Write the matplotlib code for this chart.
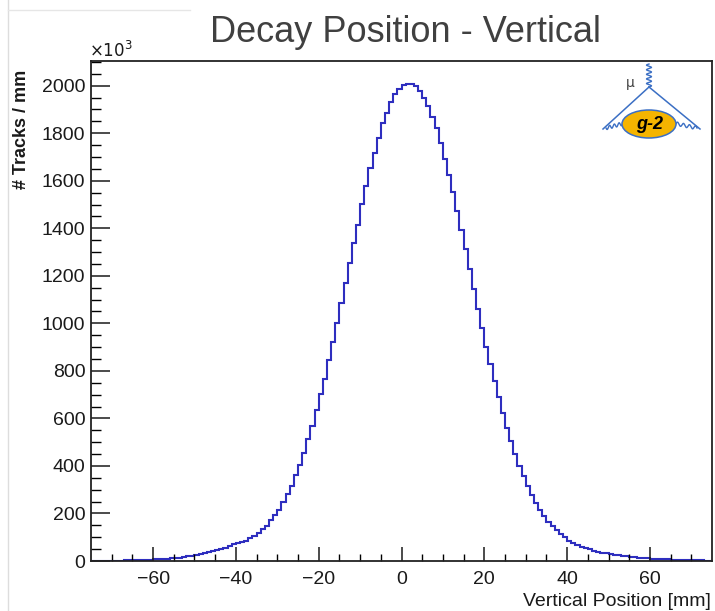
import numpy as np
import matplotlib
matplotlib.use("Agg")
import matplotlib.pyplot as plt
from matplotlib.patches import Ellipse
from matplotlib.lines import Line2D

# Histogram binning (mm) and contents (tracks per mm, in units of 10^3)
bin_lo, bin_hi, bin_width = -75, 75, 1
counts = [
    # -75 .. -51
    1, 1, 1, 1, 2, 2, 2, 2, 3, 3, 3, 4, 5, 6, 6, 7, 7, 8, 9, 12, 13, 14, 15, 19, 21,
    # -50 .. -26
    26, 30, 34, 37, 41, 45, 50, 56, 63, 70, 76, 81, 85, 95, 105, 119, 135, 149, 172, 193,
    214, 250, 282, 315, 362,
    # -25 .. -1
    404, 453, 512, 568, 634, 701, 767, 846, 923, 1003, 1087, 1171, 1255, 1338, 1415,
    1501, 1580, 1652, 1717, 1780, 1843, 1886, 1931, 1965, 1988,
    # 0 .. 24
    2002, 2006, 2006, 1997, 1976, 1950, 1914, 1870, 1821, 1757, 1690, 1626, 1554, 1472,
    1391, 1313, 1229, 1143, 1059, 979, 902, 827, 757, 690, 621,
    # 25 .. 49
    561, 505, 450, 401, 357, 316, 276, 244, 216, 188, 165, 148, 132, 114, 100, 86, 77,
    67, 60, 53, 49, 43, 39, 35, 32,
    # 50 .. 74
    29, 27, 24, 22, 20, 17, 16, 14, 13, 12, 9, 8, 8, 7, 7, 6, 6, 4, 4, 3, 3, 3, 3, 2, 2,
]

title = "Decay Position - Vertical"
xlabel = "Vertical Position [mm]"
ylabel = "# Tracks / mm"
xticks = [-60, -40, -20, 0, 20, 40, 60]
yticks = [0, 200, 400, 600, 800, 1000, 1200, 1400, 1600, 1800, 2000]

W, H = 715, 611
FONT = "Liberation Sans"
HIST_BLUE = "#2e2ebf"


def _px(x, y):
    '''Pixel position (from top-left) to figure fraction.'''
    return x / W, 1 - y / H


def _draw_hist(ax):
    edges = np.arange(bin_lo, bin_hi + bin_width, bin_width)
    ax.stairs(counts, edges, baseline=None, color=HIST_BLUE, lw=1.5)
    ax.set_xlim(bin_lo, bin_hi)
    ax.set_ylim(0, 2104)

    ax.set_xticks(xticks)
    ax.set_xticks(np.arange(-70, 75, 5), minor=True)
    ax.set_yticks(yticks)
    ax.set_yticks(np.arange(0, 2101, 50), minor=True)

    ax.tick_params(axis="x", which="major", direction="in", length=10, width=1.1,
                   pad=7.5, labelsize=14, colors="#1a1a1a")
    ax.tick_params(axis="x", which="minor", direction="in", length=5, width=1.0)
    ax.tick_params(axis="y", which="major", direction="in", length=13.5, width=1.1,
                   pad=4, labelsize=14, colors="#1a1a1a")
    ax.tick_params(axis="y", which="minor", direction="in", length=7, width=1.0)
    for lab in ax.get_xticklabels() + ax.get_yticklabels():
        lab.set_family(FONT)

    for sp in ax.spines.values():
        sp.set_linewidth(1.3)
        sp.set_color("#222222")


def _draw_logo(fig):
    # Overlay axes in pixel units for the g-2 badge
    lax = fig.add_axes([0, 0, 1, 1])
    lax.set_xlim(0, W)
    lax.set_ylim(H, 0)
    lax.axis("off")
    blue = "#3b6fc4"

    vx, vy = 649, 87
    lax.plot([vx, 603], [vy, 129], color=blue, lw=1.1)
    lax.plot([vx, 700], [vy, 129], color=blue, lw=1.1)

    # photon coil above the vertex
    t = np.linspace(0, 1, 200)
    lax.plot(vx + 2.5 * np.sin(t * 2 * np.pi * 5), vy - t * 23, color=blue, lw=1.0)
    # wiggles at the lower corners
    for x0, x1, y0, y1 in [(606, 625, 128, 123), (673, 697, 123, 128)]:
        xs = x0 + (x1 - x0) * t
        ys = y0 + (y1 - y0) * t + 1.8 * np.sin(t * 2 * np.pi * 4)
        lax.plot(xs, ys, color=blue, lw=1.0)

    lax.add_patch(Ellipse((649, 124), 54, 28, facecolor="#f5b400",
                          edgecolor=blue, lw=1.1, zorder=3))
    lax.text(650, 124.5, "g-2", ha="center", va="center", fontsize=13,
             fontweight="bold", style="italic", family=FONT, color="black", zorder=4)
    lax.text(630, 83, "\u03bc", ha="center", va="center", fontsize=10,
             family="DejaVu Sans", color="#444444")


def _main():
    fig = plt.figure(figsize=(W / 100, H / 100), dpi=100)
    ax = fig.add_axes([91 / W, 1 - 561 / H, (712 - 91) / W, (561 - 61) / H])
    _draw_hist(ax)

    fig.text(*_px(405, 42), title, ha="center", va="baseline", fontsize=26,
             family=FONT, color="#404040")
    fig.text(*_px(711, 593), xlabel, ha="right", va="top", fontsize=14,
             family=FONT, color="#1a1a1a")
    fig.text(*_px(22, 70), ylabel, ha="center", va="top", rotation=90, fontsize=13,
             fontweight="bold", family=FONT, color="#1a1a1a")
    fig.text(*_px(89, 57), r"$\times10^{3}$", ha="left", va="baseline", fontsize=12,
             family=FONT, color="#1a1a1a")

    # faint window edges from the screenshot
    fig.add_artist(Line2D([8 / W, 8 / W], [0, 1], color="#dddddd", lw=1))
    fig.add_artist(Line2D([8 / W, 190 / W], [1 - 10 / H, 1 - 10 / H], color="#e6e6e6", lw=1))

    _draw_logo(fig)
    fig.savefig("out.png", dpi=100)


if __name__ == "__main__":
    _main()
